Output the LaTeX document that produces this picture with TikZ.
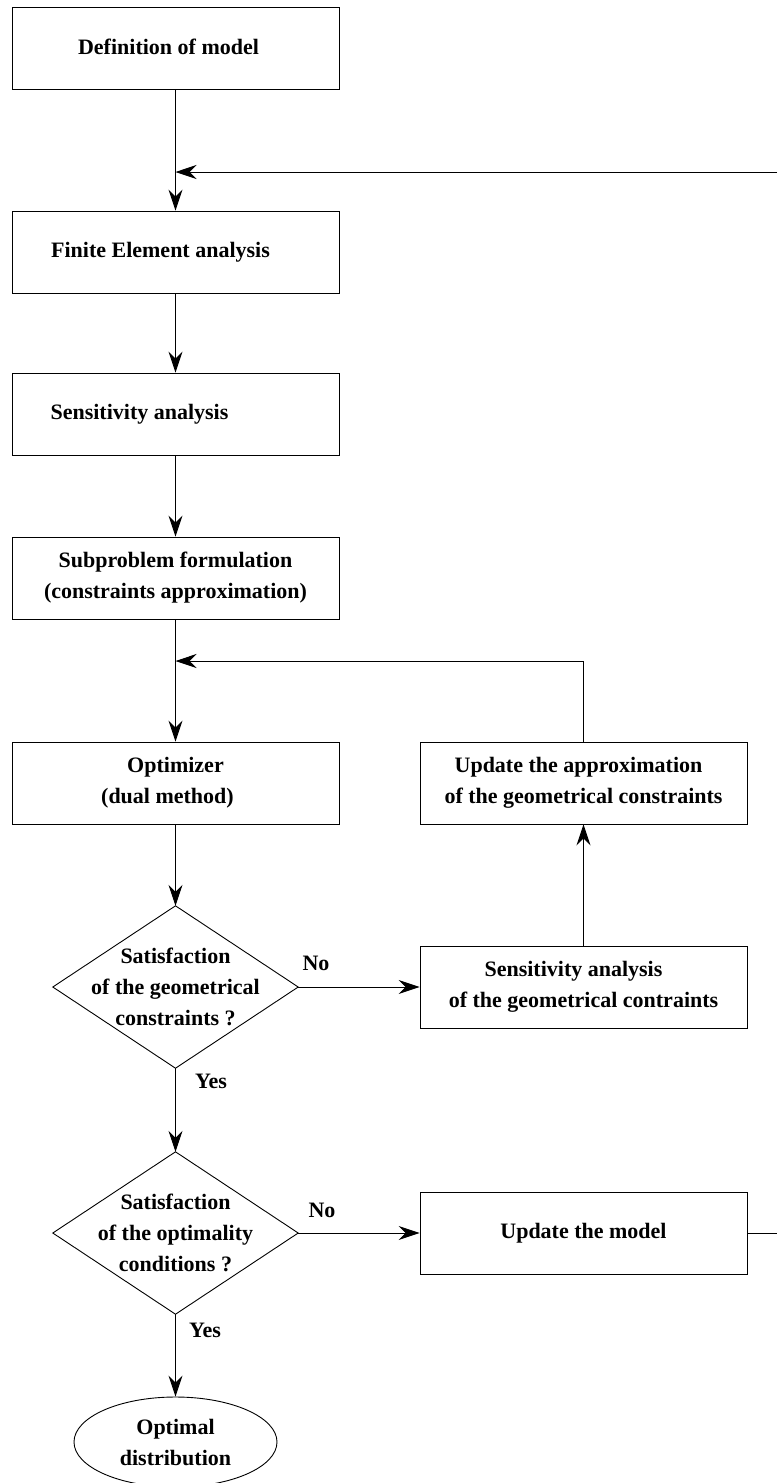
\documentclass[tikz,border=0pt]{standalone}
\usepackage{fontspec}
\setmainfont{Liberation Serif}
\usetikzlibrary{arrows.meta,shapes.geometric}
\begin{document}
\begin{tikzpicture}[x=1pt,y=-1pt,
  every node/.style={font=\bfseries\fontsize{22}{31}\selectfont, text=black},
  box/.style={draw, line width=0.9pt, minimum width=327pt, minimum height=82pt, inner sep=0pt, align=center},
  dec/.style={minimum width=245pt, minimum height=162pt, inner sep=0pt, align=center},
  term/.style={draw, ellipse, line width=0.9pt, minimum width=203pt, minimum height=90pt, inner sep=0pt, align=center},
  lbl/.style={inner sep=0pt},
  conn/.style={line width=0.9pt, -{Stealth[length=21pt,width=14pt,inset=7pt]}},
  plain/.style={line width=0.9pt}]
\useasboundingbox (0,0) rectangle (777,1483);
\fill[white] (0,0) rectangle (777,1483);

\node[box] (def) at (175.5,48) {\raisebox{3pt}{\hspace*{-14pt}Definition of model}};
\node[box] (fea) at (175.5,252) {\hspace*{-30pt}Finite Element analysis};
\node[box] (sens) at (175.5,414) {\hspace*{-72pt}Sensitivity analysis};
\node[box] (sub) at (175.5,578) {Subproblem formulation\\(constraints approximation)};
\node[box] (opt) at (175.5,783) {Optimizer\\\hspace*{-16pt}(dual method)};
\node[box] (upd) at (583.5,783) {\hspace*{-10pt}Update the approximation\\of the geometrical constraints};
\node[box] (sgc) at (583.5,987) {\hspace*{-20pt}Sensitivity analysis\\of the geometrical contraints};
\node[box] (um) at (583.5,1233) {Update the model};

\node[dec] (d1) at (175.5,987) {Satisfaction\\of the geometrical\\constraints ?};
\draw[plain] (d1.north) -- (d1.east) -- (d1.south) -- (d1.west) -- cycle;
\node[dec] (d2) at (175.5,1233) {Satisfaction\\of the optimality\\conditions ?};
\draw[plain] (d2.north) -- (d2.east) -- (d2.south) -- (d2.west) -- cycle;

\node[term] (end) at (175.5,1442) {Optimal\\distribution};

\node[lbl] (no1) at (316,963) {No};
\node[lbl] (no2) at (322,1210) {No};
\node[lbl] (yes1) at (211,1081) {Yes};
\node[lbl] (yes2) at (205,1330) {Yes};

\coordinate (j1) at (175.5,172);
\coordinate (r1) at (777,172);
\coordinate (j2) at (175.5,661);
\coordinate (r2) at (777,1233);

\draw[conn] (def.south) -- (fea.north);
\draw[conn] (r1) -- (j1);
\draw[conn] (fea.south) -- (sens.north);
\draw[conn] (sens.south) -- (sub.north);
\draw[conn] (sub.south) -- (opt.north);
\draw[conn] (upd.north) |- (j2);
\draw[conn] (opt.south) -- (d1.north);
\draw[conn] (d1.east) -- (sgc.west);
\draw[conn] (sgc.north) -- (upd.south);
\draw[conn] (d1.south) -- (d2.north);
\draw[conn] (d2.east) -- (um.west);
\draw[plain] (um.east) -- (r2);
\draw[conn] (d2.south) -- (end.north);
\end{tikzpicture}
\end{document}
